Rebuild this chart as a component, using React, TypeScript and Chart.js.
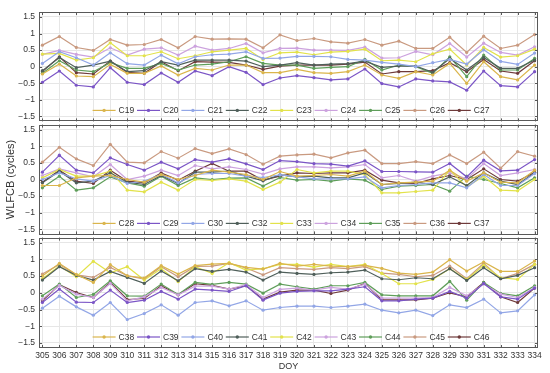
import React, { useEffect, useRef } from 'react';
import { Chart, registerables } from 'chart.js';

Chart.register(...registerables);

// ---------- data ----------
const days = [305, 306, 307, 308, 309, 310, 311, 312, 313, 314, 315, 316, 317, 318, 319, 320, 321, 322, 323, 324, 325, 326, 327, 328, 329, 330, 331, 332, 333, 334];
const yTickValues = [-1.5, -1, -0.5, 0, 0.5, 1, 1.5];
const xMin = 304.8;
const xMax = 334.2;
const yMin = -1.65;
const yMax = 1.65;

const seriesColors = ['#dab54c', '#7b55c6', '#92a6e6', '#4f5f5a', '#e2e24a', '#cca2de', '#5f9e5a', '#c99a80', '#6e3a3a'];

// panel 1
const C19 = [-0.22, 0.08, -0.28, -0.30, 0.07, -0.20, -0.20, 0.02, -0.25, -0.05, -0.10, 0.05, 0.05, -0.18, -0.18, -0.08, -0.18, -0.20, -0.15, 0.05, -0.25, -0.35, -0.15, -0.25, 0.10, -0.50, 0.15, -0.30, -0.40, 0.05];
const C20 = [-0.47, -0.13, -0.56, -0.61, -0.03, -0.47, -0.54, -0.19, -0.47, -0.13, -0.27, 0.00, -0.17, -0.54, -0.34, -0.27, -0.33, -0.40, -0.37, -0.07, -0.51, -0.61, -0.37, -0.43, -0.46, -0.71, -0.13, -0.57, -0.61, -0.15];
const C21 = [0.10, 0.45, 0.27, 0.05, 0.42, 0.09, 0.05, 0.35, 0.09, 0.30, 0.36, 0.38, 0.45, 0.25, 0.26, 0.31, 0.31, 0.30, 0.22, 0.20, 0.13, 0.08, 0.00, 0.12, 0.22, 0.08, 0.51, 0.16, 0.07, 0.41];
const C22 = [-0.12, 0.28, -0.03, 0.05, 0.17, -0.15, -0.12, 0.15, 0.05, 0.20, 0.20, 0.20, 0.17, 0.00, 0.05, 0.12, 0.05, 0.08, 0.09, 0.17, -0.02, 0.02, 0.02, -0.17, 0.25, -0.10, 0.28, -0.05, -0.05, 0.20];
const C23 = [0.38, 0.40, 0.20, 0.27, 0.72, 0.33, 0.33, 0.45, 0.24, 0.33, 0.45, 0.50, 0.55, 0.22, 0.42, 0.44, 0.36, 0.44, 0.46, 0.53, 0.18, 0.20, 0.15, 0.39, 0.53, 0.05, 0.58, 0.29, 0.33, 0.53];
const C24 = [0.37, 0.49, 0.37, 0.29, 0.57, 0.35, 0.53, 0.57, 0.35, 0.62, 0.50, 0.55, 0.70, 0.42, 0.55, 0.56, 0.50, 0.50, 0.49, 0.59, 0.26, 0.27, 0.46, 0.36, 0.70, 0.29, 0.71, 0.43, 0.35, 0.60];
const C25 = [-0.20, 0.18, -0.10, -0.15, 0.12, -0.05, -0.05, 0.10, -0.10, 0.05, 0.08, 0.15, 0.30, 0.10, 0.05, 0.05, -0.05, -0.02, 0.00, 0.22, -0.10, 0.05, 0.00, -0.20, 0.30, -0.30, 0.35, -0.10, -0.10, 0.25];
const C26 = [0.65, 0.91, 0.58, 0.49, 0.82, 0.65, 0.67, 0.82, 0.57, 0.91, 0.83, 0.84, 0.83, 0.57, 0.96, 0.79, 0.85, 0.75, 0.71, 0.82, 0.65, 0.77, 0.55, 0.55, 0.89, 0.43, 0.92, 0.55, 0.65, 0.97];
const C27 = [-0.15, 0.30, -0.18, -0.22, 0.17, -0.17, -0.20, 0.15, -0.12, 0.15, 0.14, 0.13, 0.05, -0.08, 0.02, 0.05, 0.05, 0.05, 0.08, 0.14, -0.22, -0.15, -0.15, -0.12, 0.12, -0.15, 0.22, -0.13, -0.20, 0.18];

// panel 2
const C28 = [-0.18, -0.18, 0.05, 0.10, 0.12, 0.00, -0.08, 0.15, 0.00, 0.12, 0.28, 0.22, 0.15, 0.00, 0.24, 0.10, 0.12, 0.15, 0.10, 0.25, -0.15, -0.10, -0.08, -0.05, 0.28, -0.05, 0.20, -0.08, -0.10, 0.28];
const C29 = [0.22, 0.73, 0.28, 0.20, 0.65, 0.45, 0.28, 0.52, 0.32, 0.60, 0.52, 0.62, 0.47, 0.30, 0.57, 0.54, 0.48, 0.46, 0.40, 0.56, 0.24, 0.24, 0.23, 0.22, 0.48, 0.08, 0.58, 0.26, 0.28, 0.60];
const C30 = [0.00, 0.20, 0.02, -0.05, 0.12, -0.12, -0.05, 0.15, -0.10, 0.15, 0.18, 0.18, 0.10, 0.06, 0.14, 0.08, 0.02, 0.02, 0.02, 0.08, -0.25, -0.18, -0.15, -0.10, -0.10, -0.25, 0.15, -0.18, -0.18, 0.18];
const C32 = [-0.10, 0.25, -0.10, -0.05, 0.20, -0.08, -0.15, 0.12, -0.12, 0.22, 0.22, 0.25, 0.10, -0.04, 0.14, 0.08, 0.10, 0.05, 0.05, 0.20, -0.15, -0.12, -0.08, -0.15, 0.08, -0.18, 0.20, -0.05, -0.15, 0.20];
const C33 = [0.05, 0.30, 0.10, 0.10, 0.25, -0.32, -0.37, -0.08, -0.32, 0.00, -0.03, 0.02, -0.05, -0.30, -0.08, 0.30, 0.20, 0.25, 0.25, 0.15, -0.40, -0.40, -0.36, -0.32, 0.28, -0.22, 0.10, -0.32, -0.34, 0.00];
const C34 = [0.12, 0.32, 0.20, 0.08, 0.45, 0.00, 0.10, 0.28, 0.12, 0.42, 0.32, 0.38, 0.30, 0.16, 0.32, 0.38, 0.38, 0.35, 0.38, 0.45, 0.05, 0.12, -0.05, 0.10, 0.20, 0.02, 0.48, 0.12, 0.20, 0.30];
const C35 = [-0.25, 0.10, -0.32, -0.25, 0.08, -0.10, -0.20, 0.10, -0.18, 0.05, 0.00, 0.04, 0.05, -0.20, 0.06, -0.02, 0.00, -0.05, 0.02, -0.02, -0.30, -0.20, -0.18, -0.15, -0.35, 0.10, 0.00, -0.12, -0.25, 0.05];
const C36 = [0.52, 0.97, 0.62, 0.42, 1.06, 0.52, 0.50, 0.84, 0.64, 0.93, 0.78, 0.92, 0.75, 0.46, 0.70, 0.74, 0.76, 0.65, 0.80, 0.88, 0.48, 0.48, 0.54, 0.48, 0.74, 0.48, 0.82, 0.34, 0.84, 0.70];
const C37 = [-0.08, 0.28, -0.05, -0.12, 0.28, -0.05, -0.10, 0.20, -0.02, 0.25, 0.48, 0.25, 0.25, -0.02, 0.10, 0.20, 0.18, 0.20, 0.20, 0.28, -0.02, -0.10, -0.12, 0.02, 0.12, 0.00, 0.32, 0.00, -0.05, 0.22];

// panel 3
const C38 = [0.50, 0.88, 0.55, 0.31, 0.84, 0.51, 0.44, 0.81, 0.56, 0.81, 0.86, 0.88, 0.76, 0.71, 0.88, 0.80, 0.85, 0.80, 0.78, 0.82, 0.73, 0.59, 0.55, 0.62, 0.99, 0.65, 0.92, 0.64, 0.64, 0.95];
const C39 = [-0.29, 0.11, -0.28, -0.29, 0.08, -0.29, -0.22, 0.04, -0.19, 0.11, 0.08, 0.04, 0.21, -0.22, -0.01, 0.04, 0.06, 0.06, 0.11, 0.18, -0.24, -0.24, -0.19, -0.16, 0.04, -0.16, 0.28, -0.12, -0.19, 0.14];
const C40 = [-0.46, -0.10, -0.42, -0.67, -0.29, -0.80, -0.62, -0.36, -0.67, -0.29, -0.24, -0.39, -0.24, -0.52, -0.44, -0.40, -0.40, -0.44, -0.40, -0.34, -0.52, -0.60, -0.52, -0.68, -0.36, -0.44, -0.19, -0.60, -0.54, -0.06];
const C41 = [0.38, 0.78, 0.52, 0.38, 0.64, 0.46, 0.28, 0.65, 0.36, 0.72, 0.64, 0.70, 0.62, 0.38, 0.62, 0.58, 0.55, 0.60, 0.62, 0.68, 0.42, 0.39, 0.45, 0.42, 0.72, 0.37, 0.75, 0.42, 0.52, 0.75];
const C42 = [0.42, 0.80, 0.48, 0.94, 0.60, 0.78, 0.38, 0.72, 0.33, 0.78, 0.58, 0.90, 0.68, 0.72, 0.85, 0.85, 0.77, 0.85, 0.78, 0.85, 0.58, 0.27, 0.27, 0.40, 0.72, 0.40, 0.82, 0.45, 0.40, 0.85];
const C43 = [-0.19, 0.22, -0.04, -0.14, 0.28, -0.24, -0.12, 0.16, -0.06, 0.20, 0.20, 0.11, 0.24, -0.14, 0.10, 0.14, 0.08, 0.16, 0.11, 0.26, -0.16, -0.16, -0.16, -0.14, 0.16, -0.09, 0.26, -0.04, -0.14, 0.16];
const C44 = [-0.09, 0.26, -0.14, -0.05, 0.36, -0.09, -0.10, 0.26, -0.05, 0.31, 0.25, 0.31, 0.26, -0.01, 0.26, 0.18, 0.11, 0.21, 0.21, 0.31, -0.06, -0.09, -0.09, -0.09, 0.34, -0.22, 0.31, -0.02, -0.09, 0.21];
const C45 = [0.56, 0.85, 0.54, 0.46, 0.76, 0.51, 0.41, 0.78, 0.48, 0.79, 0.80, 0.88, 0.74, 0.54, 0.75, 0.72, 0.70, 0.75, 0.72, 0.78, 0.59, 0.55, 0.48, 0.52, 0.80, 0.42, 0.88, 0.42, 0.58, 0.85];
const C46 = [-0.24, 0.24, 0.01, -0.14, 0.31, -0.20, -0.17, 0.21, -0.06, 0.27, 0.22, 0.11, 0.21, -0.19, 0.02, 0.08, 0.08, -0.02, 0.08, 0.28, -0.21, -0.21, -0.21, -0.16, 0.00, -0.12, 0.31, -0.12, -0.29, 0.14];

const panel1Labels = ['C19', 'C20', 'C21', 'C22', 'C23', 'C24', 'C25', 'C26', 'C27'];
const panel2Labels = ['C28', 'C29', 'C30', 'C32', 'C33', 'C34', 'C35', 'C36', 'C37'];
const panel3Labels = ['C38', 'C39', 'C40', 'C41', 'C42', 'C43', 'C44', 'C45', 'C46'];
const panel1Values = [C19, C20, C21, C22, C23, C24, C25, C26, C27];
const panel2Values = [C28, C29, C30, C32, C33, C34, C35, C36, C37];
const panel3Values = [C38, C39, C40, C41, C42, C43, C44, C45, C46];

const yTitleText = 'WLFCB (cycles)';
const xTitleText = 'DOY';

// ---------- style ----------
const FONT = '"Liberation Sans", Arial, Helvetica, sans-serif';
const TEXT = '#333333';
const GRID = '#e6e6e6';
const FRAME = '#595959';

const fmtY = (v: number) => (v < 0 ? '\u2212' + String(Math.abs(v)) : String(v));

const framePlugin = {
  id: 'frame',
  afterDatasetsDraw(chart: any) {
    const { ctx, chartArea } = chart;
    const { left, right, top, bottom } = chartArea;
    ctx.save();
    ctx.strokeStyle = FRAME;
    ctx.lineWidth = 1;
    ctx.beginPath();
    const xs = chart.scales.x;
    xs.ticks.forEach((t: any) => {
      const px = Math.round(xs.getPixelForValue(t.value)) + 0.5;
      ctx.moveTo(px, top);
      ctx.lineTo(px, top + 3);
      ctx.moveTo(px, bottom);
      ctx.lineTo(px, bottom - 3);
    });
    const ys = chart.scales.y;
    ys.ticks.forEach((t: any) => {
      const py = Math.round(ys.getPixelForValue(t.value)) + 0.5;
      ctx.moveTo(left, py);
      ctx.lineTo(left + 3, py);
      ctx.moveTo(right, py);
      ctx.lineTo(right - 3, py);
    });
    ctx.stroke();
    ctx.strokeRect(Math.round(left) + 0.5, Math.round(top) + 0.5, Math.round(right - left) - 1, Math.round(bottom - top) - 1);
    ctx.restore();
  },
};

const legendPlugin = {
  id: 'innerLegend',
  afterDraw(chart: any) {
    const { ctx, chartArea } = chart;
    const y = chartArea.bottom - 11;
    const start = chartArea.left + 79.6;
    const step = 44.4;
    ctx.save();
    ctx.font = `8.5px ${FONT}`;
    ctx.textBaseline = 'middle';
    ctx.textAlign = 'left';
    chart.data.datasets.forEach((ds: any, i: number) => {
      const tx = start + i * step;
      ctx.strokeStyle = ds.borderColor;
      ctx.lineWidth = 1.2;
      ctx.beginPath();
      ctx.moveTo(tx - 26, y);
      ctx.lineTo(tx - 3, y);
      ctx.stroke();
      ctx.fillStyle = ds.borderColor;
      ctx.beginPath();
      ctx.arc(tx - 14.5, y, 1.7, 0, Math.PI * 2);
      ctx.fill();
      ctx.fillStyle = TEXT;
      ctx.fillText(ds.label, tx, y + 0.5);
    });
    ctx.restore();
  },
};

type PanelProps = {
  labels: string[];
  values: number[][];
  top: number;
  height: number;
  padTop: number;
  padBottom: number;
  showX: boolean;
  yTitle?: string;
};

function Panel({ labels, values, top, height, padTop, padBottom, showX, yTitle }: PanelProps) {
  const ref = useRef<HTMLCanvasElement>(null);
  useEffect(() => {
    const chart = new Chart(ref.current as HTMLCanvasElement, {
      type: 'line',
      data: {
        datasets: labels.map((lab, i) => ({
          label: lab,
          data: values[i].map((v, j) => ({ x: days[j], y: v })),
          borderColor: seriesColors[i],
          backgroundColor: seriesColors[i],
          borderWidth: 1.2,
          pointRadius: 1.6,
          pointBorderWidth: 0,
          pointHoverRadius: 0,
          tension: 0,
          fill: false,
        })),
      },
      options: {
        animation: false,
        responsive: false,
        maintainAspectRatio: false,
        devicePixelRatio: 1,
        events: [],
        layout: { padding: { top: padTop, bottom: padBottom, left: 0, right: 12 } },
        plugins: { legend: { display: false }, tooltip: { enabled: false } },
        scales: {
          x: {
            type: 'linear',
            min: xMin,
            max: xMax,
            afterBuildTicks: (s: any) => {
              s.ticks = days.map((d) => ({ value: d }));
            },
            afterFit: (s: any) => {
              s.paddingLeft = 0;
              s.paddingRight = 0;
              if (showX) s.height = 25;
            },
            grid: { color: GRID, lineWidth: 1, drawTicks: false },
            border: { display: false },
            ticks: {
              display: showX,
              autoSkip: false,
              maxRotation: 0,
              padding: 3,
              color: TEXT,
              font: { family: FONT, size: 8.5 },
              callback: (v: any) => String(v),
            },
            title: {
              display: showX,
              text: xTitleText,
              color: TEXT,
              padding: { top: 0, bottom: 1 },
              font: { family: FONT, size: 9 },
            },
          },
          y: {
            type: 'linear',
            min: yMin,
            max: yMax,
            afterBuildTicks: (s: any) => {
              s.ticks = yTickValues.map((v) => ({ value: v }));
            },
            afterFit: (s: any) => {
              s.width = 39;
              s.paddingTop = 0;
              s.paddingBottom = 0;
            },
            grid: { color: GRID, lineWidth: 1, drawTicks: false },
            border: { display: false },
            ticks: {
              padding: 4,
              color: TEXT,
              font: { family: FONT, size: 8.5 },
              callback: (v: any) => fmtY(Number(v)),
            },
            title: {
              display: !!yTitle,
              text: yTitle || '',
              color: TEXT,
              padding: { top: 4, bottom: 0 },
              font: { family: FONT, size: 11 },
            },
          },
        },
      } as any,
      plugins: [framePlugin, legendPlugin],
    });
    return () => chart.destroy();
  }, []);
  return (
    <canvas
      ref={ref}
      width={550}
      height={height}
      style={{ position: 'absolute', left: 0, top, width: 550, height, display: 'block' }}
    />
  );
}

export default function App() {
  return (
    <div style={{ position: 'absolute', left: 0, top: 0, width: 550, height: 373, background: '#ffffff', overflow: 'hidden' }}>
      <Panel labels={panel1Labels} values={panel1Values} top={0} height={123} padTop={12} padBottom={1} showX={false} />
      <Panel labels={panel2Labels} values={panel2Values} top={123} height={113} padTop={0} padBottom={1} showX={false} yTitle={yTitleText} />
      <Panel labels={panel3Labels} values={panel3Values} top={236} height={137} padTop={1} padBottom={0} showX={true} />
    </div>
  );
}
